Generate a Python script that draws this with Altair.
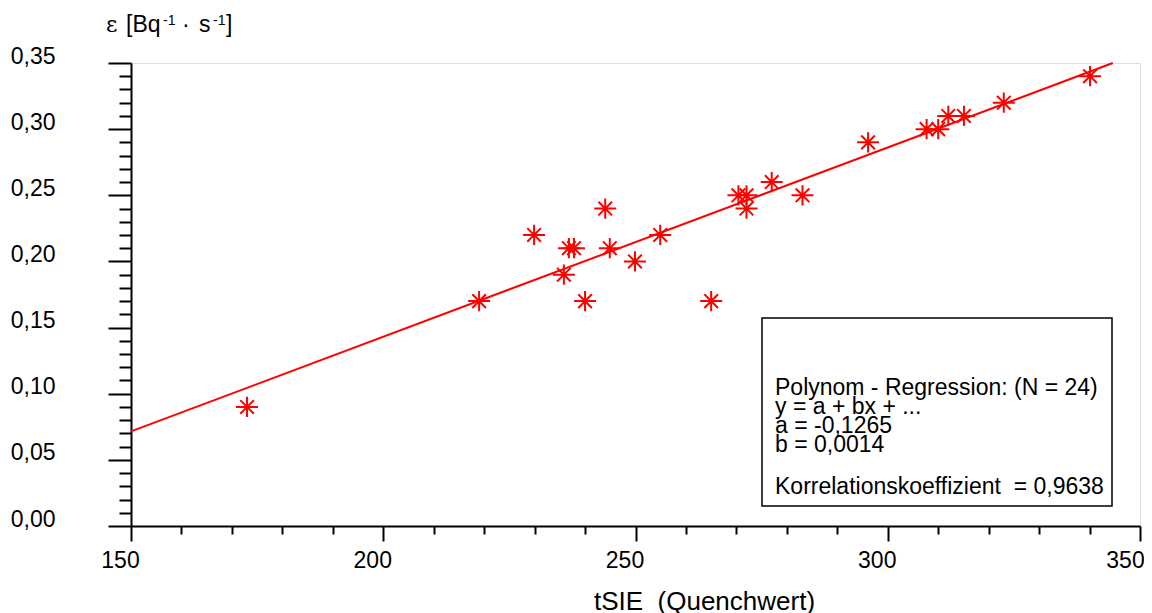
import altair as alt
import pandas as pd

# measured points: tSIE (quench value) and efficiency
tsie = [173.0, 219.0, 229.9, 235.8, 236.8, 237.8, 240.0, 244.0, 244.9, 249.9,
        254.9, 265.0, 270.4, 272.0, 272.0, 277.0, 283.1, 296.1, 307.7, 310.0,
        312.0, 315.1, 323.0, 340.1]
eff = [0.09, 0.17, 0.22, 0.19, 0.21, 0.21, 0.17, 0.24, 0.21, 0.20,
       0.22, 0.17, 0.25, 0.25, 0.24, 0.26, 0.25, 0.29, 0.30, 0.30,
       0.31, 0.31, 0.32, 0.34]

# regression line end points
fit_x = [150.0, 344.6]
fit_y = [0.0715, 0.350]

x_ticks = [150, 160, 170, 180, 190, 200, 210, 220, 230, 240, 250, 260, 270, 280,
           290, 300, 310, 320, 330, 340, 350]
y_ticks_pct = list(range(0, 36))  # every 0.01

legend_lines = ["Polynom - Regression: (N = 24)", "y = a + bx + ...",
                "a = -0,1265", "b = 0,0014"]
legend_last = "Korrelationskoeffizient\u00a0 = 0,9638"
x_title = "tSIE\u00a0 (Quenchwert)"

pts = pd.DataFrame({"tsie": tsie, "eff": eff})
fit = pd.DataFrame({"tsie": fit_x, "eff": fit_y})
one = pd.DataFrame({"a": [0]})

RED = "#ff0000"
FONT = "Liberation Sans"
FS = 23

xscale = alt.Scale(domain=[150, 350], nice=False, zero=False)
yscale = alt.Scale(domain=[0, 0.35], nice=False, zero=False)

xaxis = alt.Axis(
    values=x_ticks, tickCount=60,
    title=x_title,
    titleX=573, titleY=83, titleBaseline="alphabetic", titleAlign="center",
    titleFont=FONT, titleFontSize=26, titleFontWeight="normal", titleColor="black",
    tickSize={"condition": {"test": "datum.value % 50 === 0", "value": 15}, "value": 8},
    labelExpr="datum.value % 50 === 0 ? datum.label : ''",
    labelFont=FONT, labelFontSize=FS, labelColor="black",
    labelBaseline="alphabetic", labelPadding=26,
    labelOffset={"condition": {"test": "datum.value === 350", "value": -15}, "value": -11},
    labelFlush=False, labelOverlap=False, labelBound=False,
    domainColor="black", domainWidth=2, tickColor="black", tickWidth=2,
    grid=False,
)
yaxis = alt.Axis(
    values=[v / 100 for v in y_ticks_pct], tickCount=60,
    title=None,
    tickSize={"condition": {"test": "round(datum.value*100) % 5 === 0", "value": 23}, "value": 12},
    labelExpr="round(datum.value*100) % 5 === 0 ? replace(format(datum.value, '.2f'), '.', ',') : ''",
    labelFont=FONT, labelFontSize=FS, labelColor="black",
    labelBaseline="alphabetic", labelPadding=53,
    labelFlush=False, labelOverlap=False, labelBound=False,
    domainColor="black", domainWidth=2, tickColor="black", tickWidth=2,
    grid=False,
)

STAR = ("M-1,0L1,0M0,-0.92L0,0.92M-0.62,-0.62L0.62,0.62M-0.62,0.62L0.62,-0.62")

points = alt.Chart(pts).mark_point(
    shape=STAR, size=484, color=RED, strokeWidth=2, filled=False, opacity=1
).encode(
    x=alt.X("tsie:Q", scale=xscale, axis=xaxis),
    y=alt.Y("eff:Q", scale=yscale, axis=yaxis),
)

line = alt.Chart(fit).mark_line(color=RED, strokeWidth=2).encode(
    x=alt.X("tsie:Q", scale=xscale),
    y=alt.Y("eff:Q", scale=yscale),
)

box = alt.Chart(one).mark_rect(fill="white", stroke="black", strokeWidth=1.5).encode(
    x=alt.value(631), x2=alt.value(981), y=alt.value(255), y2=alt.value(443)
)

leg1 = alt.Chart(one).mark_text(
    align="left", baseline="alphabetic", font=FONT, fontSize=FS, lineHeight=19, color="black"
).encode(x=alt.value(644), y=alt.value(332), text=alt.value(legend_lines))

leg2 = alt.Chart(one).mark_text(
    align="left", baseline="alphabetic", font=FONT, fontSize=FS, color="black"
).encode(x=alt.value(644), y=alt.value(431), text=alt.value(legend_last))


def title_part(txt, xpos, ypos, size, font=FONT):
    return alt.Chart(one).mark_text(
        align="left", baseline="alphabetic", font=font, fontSize=size, color="black"
    ).encode(x=alt.value(xpos), y=alt.value(ypos), text=alt.value(txt))


ytitle = [
    title_part("\u03b5", -25, -31.3, 22, "DejaVu Serif"),
    title_part("[Bq", -5, -31.3, 23),
    title_part("-1", 32, -38, 14),
    title_part("\u00b7", 51, -31.3, 23),
    title_part("s", 68, -31.3, 23),
    title_part("-1", 82, -38, 14),
    title_part("]", 95, -31.3, 23),
]

chart = alt.layer(line, points, box, leg1, leg2, *ytitle).properties(
    width=1009, height=463,
    autosize=alt.AutoSizeParams(type="none"),
    padding={"left": 123, "top": 55, "right": 4, "bottom": 87},
).configure_view(stroke=None).configure(background="white")

chart.save("out.html", embed_options={"renderer": "svg", "actions": False})
